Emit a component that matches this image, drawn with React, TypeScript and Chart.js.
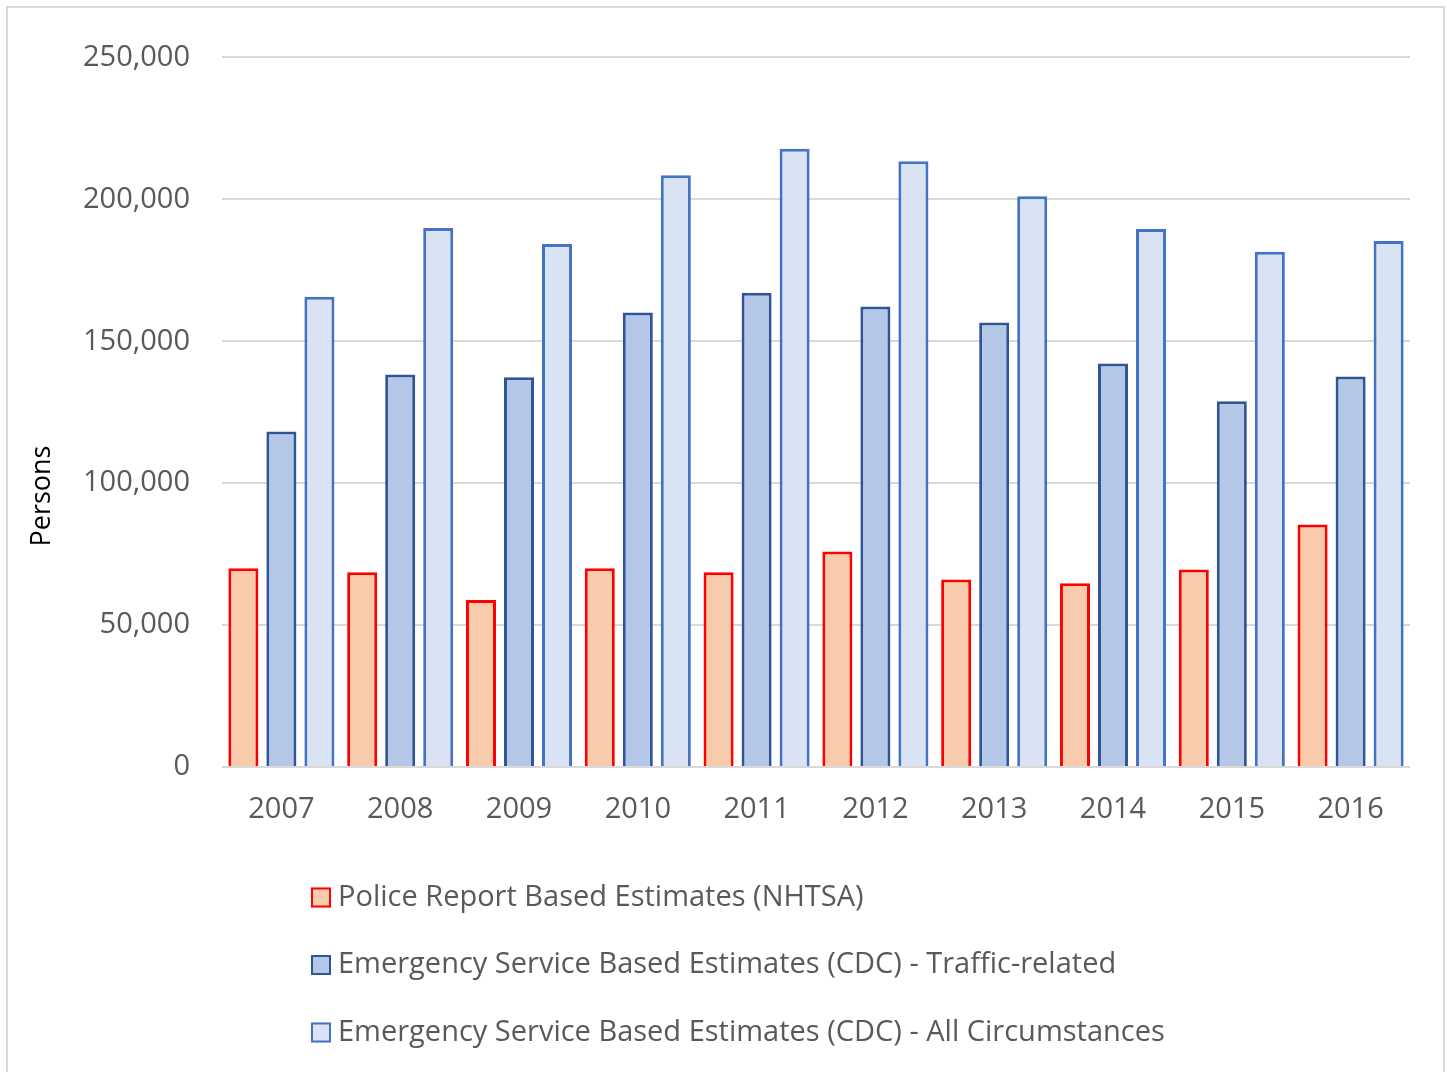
import React, { useEffect, useRef } from "react";
import { Chart, registerables } from "chart.js";

Chart.register(...registerables);

const years = ["2007", "2008", "2009", "2010", "2011", "2012", "2013", "2014", "2015", "2016"];
const policeEstimates = [70000, 68600, 58800, 70000, 68600, 75900, 66100, 64700, 69600, 85400];
const trafficRelated = [118200, 138300, 137300, 160100, 167100, 162200, 156600, 142200, 128900, 137600];
const allCircumstances = [165700, 189900, 184300, 208500, 217800, 213400, 201100, 189500, 181500, 185300];
const seriesLabels = [
  "Police Report Based Estimates (NHTSA)",
  "Emergency Service Based Estimates (CDC) - Traffic-related",
  "Emergency Service Based Estimates (CDC) - All Circumstances",
];
const yAxisTitle = "Persons";
const yMin = 0;
const yMax = 250000;
const yStep = 50000;

const FONT = '"Open Sans", "Noto Sans", sans-serif';
const TEXT_COLOR = "#595959";

const customDraw = {
  id: "customDraw",
  afterDraw(chart: any) {
    const ctx = chart.ctx as CanvasRenderingContext2D;
    ctx.save();
    ctx.translate(42, 488);
    ctx.rotate(-Math.PI / 2);
    ctx.font = `27px ${FONT}`;
    ctx.fillStyle = "#000000";
    ctx.textAlign = "center";
    ctx.textBaseline = "alphabetic";
    ctx.fillText(yAxisTitle, 0, 0);
    ctx.restore();

    ctx.save();
    ctx.font = `29px ${FONT}`;
    ctx.textAlign = "left";
    ctx.textBaseline = "middle";
    chart.data.datasets.forEach((ds: any, i: number) => {
      const y = 889.5 + i * 67.5;
      ctx.fillStyle = ds.backgroundColor;
      ctx.fillRect(303, y - 10, 20, 20);
      ctx.strokeStyle = ds.borderColor;
      ctx.lineWidth = 2;
      ctx.strokeRect(304, y - 9, 18, 18);
      ctx.fillStyle = TEXT_COLOR;
      ctx.fillText(ds.label, 330, y);
    });
    ctx.restore();
  },
};

export default function App() {
  const canvasRef = useRef<HTMLCanvasElement | null>(null);

  useEffect(() => {
    const canvas = canvasRef.current;
    if (!canvas) return;
    const chart = new Chart(canvas, {
      type: "bar",
      data: {
        labels: years,
        datasets: [
          {
            label: seriesLabels[0],
            data: policeEstimates,
            backgroundColor: "#F8CBAD",
            borderColor: "#FF0000",
            borderWidth: 3,
          },
          {
            label: seriesLabels[1],
            data: trafficRelated,
            backgroundColor: "#B4C7E7",
            borderColor: "#2F5597",
            borderWidth: 3,
          },
          {
            label: seriesLabels[2],
            data: allCircumstances,
            backgroundColor: "#DAE3F3",
            borderColor: "#4472C4",
            borderWidth: 3,
          },
        ],
      },
      options: {
        responsive: false,
        animation: false,
        layout: { padding: { left: 0, right: 33, top: 46, bottom: 245 } },
        datasets: {
          bar: { categoryPercentage: 0.96, barPercentage: 0.79 },
        },
        plugins: {
          legend: { display: false },
          tooltip: { enabled: false },
          title: { display: false },
        },
        scales: {
          x: {
            grid: { display: false },
            border: { display: false },
            ticks: {
              color: TEXT_COLOR,
              font: { family: FONT, size: 29 },
              padding: 17,
              maxRotation: 0,
            },
            afterFit(scale: any) {
              scale.height = 60;
            },
          },
          y: {
            min: yMin,
            max: yMax,
            grid: { color: "#D9D9D9", lineWidth: 2, drawTicks: false },
            border: { display: false },
            ticks: {
              stepSize: yStep,
              color: TEXT_COLOR,
              font: { family: FONT, size: 29 },
              padding: 32,
              callback: (v: any) => Number(v).toLocaleString("en-US"),
            },
            afterFit(scale: any) {
              scale.width = 214;
            },
          },
        },
      },
      plugins: [customDraw],
    });
    return () => chart.destroy();
  }, []);

  return (
    <div
      style={{
        position: "absolute",
        left: 6,
        top: 6,
        width: 1435,
        height: 1066,
        borderLeft: "2px solid #D9D9D9",
        borderTop: "2px solid #D9D9D9",
        borderRight: "2px solid #D9D9D9",
        background: "#FFFFFF",
      }}
    >
      <canvas ref={canvasRef} width={1435} height={1064} style={{ display: "block" }} />
    </div>
  );
}
